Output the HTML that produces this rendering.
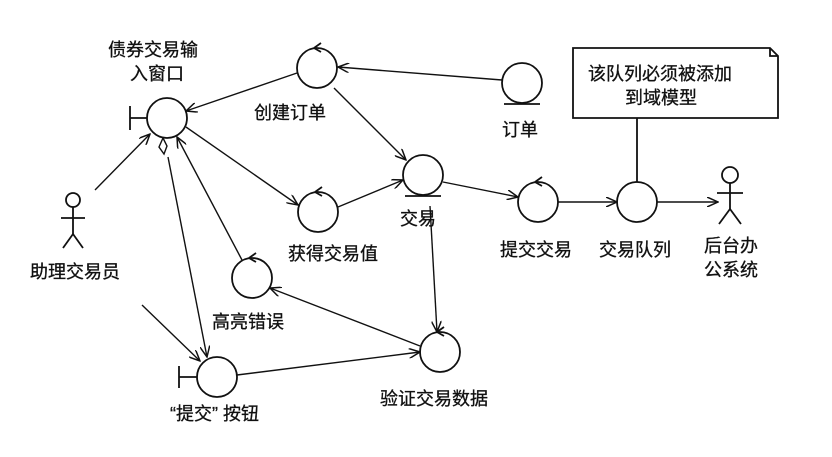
<!DOCTYPE html>
<html><head><meta charset="utf-8"><style>
body{margin:0;background:#fff;}
svg text{font-family:"Liberation Sans","Noto Sans CJK SC",sans-serif;font-size:18px;fill:#111;stroke:#111;stroke-width:0.3;}
</style></head><body>
<svg width="832" height="452" viewBox="0 0 832 452" xmlns="http://www.w3.org/2000/svg">
<defs>
<marker id="a" viewBox="0 0 12 10" refX="11" refY="5" markerWidth="12" markerHeight="10" orient="auto" markerUnits="userSpaceOnUse">
<path d="M0,0 L11,5 L0,10" fill="none" stroke="#111" stroke-width="1.5"/></marker>
</defs>
<g fill="none" stroke="#111" stroke-width="1.8">
<circle cx="167" cy="118" r="20"/><line x1="130" y1="118" x2="147" y2="118"/><line x1="130" y1="106" x2="130" y2="130"/>
<circle cx="317" cy="68" r="20"/><path d="M314,48 l7,-5 M314,48 l7,4"/>
<circle cx="423" cy="175" r="20"/><line x1="405" y1="196" x2="441" y2="196"/>
<circle cx="318" cy="212" r="20"/><path d="M315,192 l7,-5 M315,192 l7,4"/>
<circle cx="522" cy="83" r="20"/><line x1="504" y1="104" x2="540" y2="104"/>
<circle cx="538" cy="202" r="20"/><path d="M535,182 l7,-5 M535,182 l7,4"/>
<circle cx="637" cy="202" r="20"/>
<circle cx="252" cy="278" r="20"/><path d="M249,258 l7,-5 M249,258 l7,4"/>
<circle cx="440" cy="352" r="20"/><path d="M437,332 l7,-5 M437,332 l7,4"/>
<circle cx="217" cy="377" r="20"/><line x1="179" y1="377" x2="197" y2="377"/><line x1="179" y1="366" x2="179" y2="388"/>
<circle cx="73" cy="200" r="7"/><line x1="73" y1="207" x2="73" y2="234"/><line x1="61" y1="218" x2="85" y2="218"/><path d="M63,248 L73,234 L83,248"/>
<circle cx="730" cy="175" r="8"/><line x1="730" y1="183" x2="730" y2="209"/><line x1="717" y1="193" x2="743" y2="193"/><path d="M719,224 L730,209 L741,224"/>
<path d="M573,48 L770,48 L778,56 L778,118 L573,118 Z M770,48 L770,56 L778,56"/>
<line x1="637" y1="118" x2="637" y2="182"/>
</g>
<g fill="none" stroke="#111" stroke-width="1.4" marker-end="url(#a)">
<line x1="95" y1="190" x2="150" y2="134"/>
<line x1="297" y1="73" x2="186" y2="111"/>
<line x1="502" y1="80" x2="338" y2="67"/>
<line x1="334" y1="88" x2="406" y2="160"/>
<line x1="186" y1="127" x2="298" y2="205"/>
<line x1="338" y1="207" x2="403" y2="180"/>
<line x1="443" y1="182" x2="518" y2="197"/>
<line x1="558" y1="202" x2="617" y2="202"/>
<line x1="657" y1="202" x2="718" y2="202"/>
<line x1="430" y1="206" x2="437" y2="332"/>
<line x1="420" y1="346" x2="270" y2="288"/>
<line x1="242" y1="260" x2="177" y2="137"/>
<line x1="142" y1="305" x2="200" y2="361"/>
<line x1="237" y1="375" x2="420" y2="352"/>
<line x1="168" y1="157" x2="207" y2="357"/>
</g>
<path d="M163,138 l4,8 l-3,8 l-5,-7 z" fill="#fff" stroke="#111" stroke-width="1.4"/>
<text x="108" y="56">债券交易输</text>
<text x="130" y="80">入窗口</text>
<text x="254" y="119">创建订单</text>
<text x="502" y="136">订单</text>
<text x="400" y="225">交易</text>
<text x="288" y="260">获得交易值</text>
<text x="500" y="256">提交交易</text>
<text x="599" y="256">交易队列</text>
<text x="704" y="252">后台办</text>
<text x="704" y="276">公系统</text>
<text x="30" y="278">助理交易员</text>
<text x="212" y="328">高亮错误</text>
<text x="380" y="405">验证交易数据</text>
<text x="170" y="420">“提交” 按钮</text>
<text x="588" y="80">该队列必须被添加</text>
<text x="625" y="104">到域模型</text>
</svg>
</body></html>
